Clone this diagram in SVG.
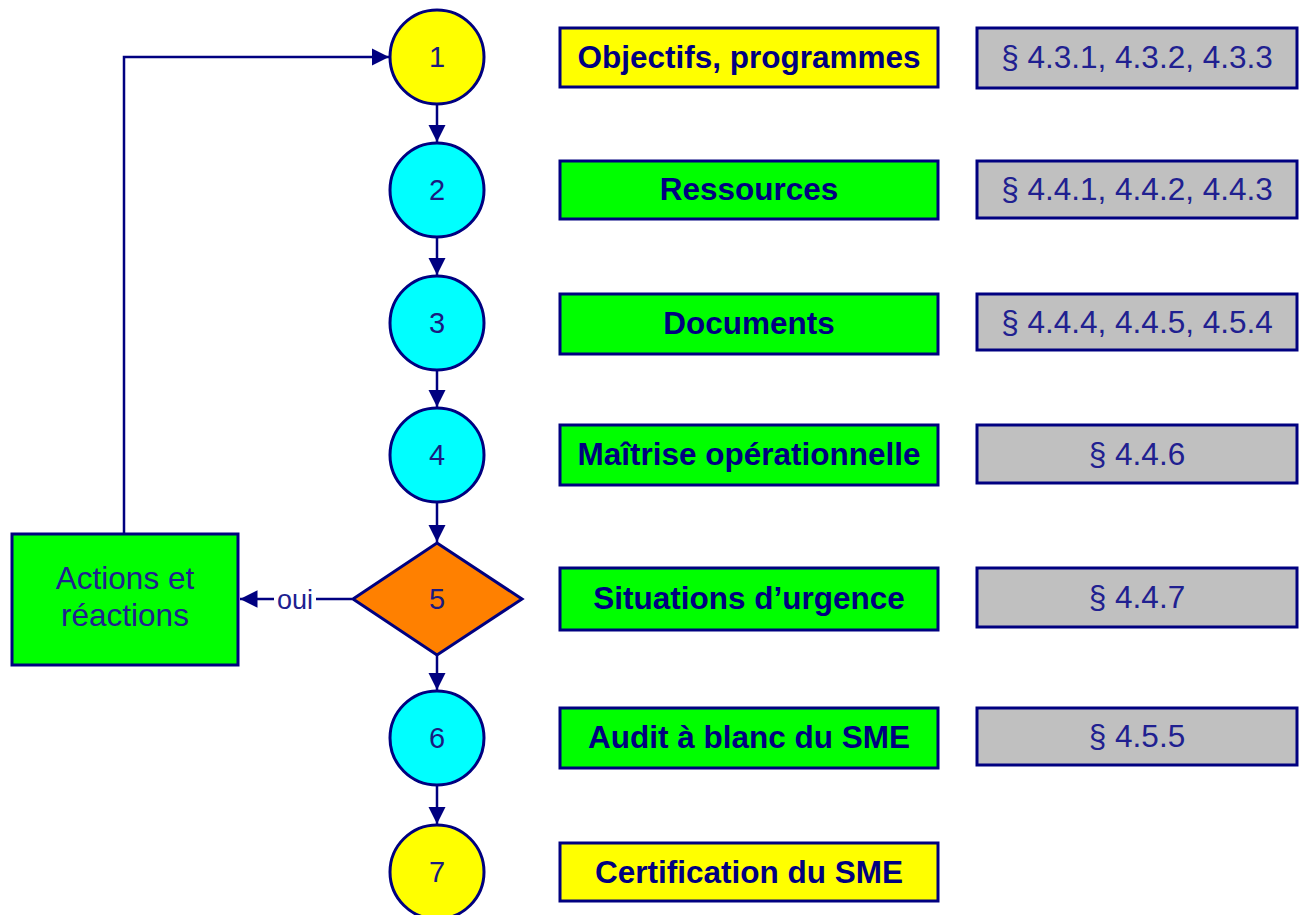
<svg xmlns="http://www.w3.org/2000/svg" width="1303" height="915" viewBox="0 0 1303 915">
<defs>
<style>
.s{stroke:#000080;stroke-width:3}
.yel{fill:#FFFF00}.cy{fill:#00FFFF}.gr{fill:#00FF00}.or{fill:#FF8000}.gy{fill:#C0C0C0}
.num{font-family:"Liberation Sans",Arial,sans-serif;font-size:29px;fill:#1a1a80;text-anchor:middle}
.b{font-family:"Liberation Sans",Arial,sans-serif;font-size:31.5px;font-weight:bold;fill:#000080;text-anchor:middle}
.r{font-family:"Liberation Sans",Arial,sans-serif;font-size:31.5px;fill:#202090;text-anchor:middle}
.ln{fill:none;stroke:#000080;stroke-width:2.5}
</style>
<marker id="ah" viewBox="0 0 10 10" refX="10" refY="5" markerWidth="7" markerHeight="7" markerUnits="strokeWidth" orient="auto">
<path d="M0,0 L10,5 L0,10 Z" fill="#000080"/>
</marker>
</defs>
<rect width="1303" height="915" fill="#FFFFFF"/>
<g id="connectors">
<path class="ln" d="M437,104 L437,142" marker-end="url(#ah)"/>
<path class="ln" d="M437,237 L437,275" marker-end="url(#ah)"/>
<path class="ln" d="M437,370 L437,407" marker-end="url(#ah)"/>
<path class="ln" d="M437,502 L437,542" marker-end="url(#ah)"/>
<path class="ln" d="M437,655 L437,690" marker-end="url(#ah)"/>
<path class="ln" d="M437,785 L437,824" marker-end="url(#ah)"/>
<path class="ln" d="M124,534 L124,57 L389,57" marker-end="url(#ah)"/>
<path class="ln" d="M352,599 L240,599" marker-end="url(#ah)"/>
<rect x="274" y="586" width="42" height="26" fill="#FFFFFF"/>
<text x="295" y="609" font-family="Liberation Sans, Arial, sans-serif" font-size="27" fill="#202090" text-anchor="middle">oui</text>
</g>
<g id="n1"><circle class="s yel" cx="437" cy="57" r="47"/><text class="num" x="437" y="67">1</text></g>
<g id="n2"><circle class="s cy" cx="437" cy="190" r="47"/><text class="num" x="437" y="200">2</text></g>
<g id="n3"><circle class="s cy" cx="437" cy="323" r="47"/><text class="num" x="437" y="333">3</text></g>
<g id="n4"><circle class="s cy" cx="437" cy="455" r="47"/><text class="num" x="437" y="465">4</text></g>
<g id="n5"><path class="s or" d="M437,543 L522,599 L437,655 L353,599 Z"/><text class="num" x="437" y="609">5</text></g>
<g id="n6"><circle class="s cy" cx="437" cy="738" r="47"/><text class="num" x="437" y="748">6</text></g>
<g id="n7"><circle class="s yel" cx="437" cy="872" r="47"/><text class="num" x="437" y="882">7</text></g>
<g id="actions"><rect class="s gr" x="12" y="534" width="226" height="131"/>
<text class="r" x="125" y="589">Actions et</text><text class="r" x="125" y="626">réactions</text></g>
<g id="t1"><rect class="s yel" x="560" y="28" width="378" height="59"/><text class="b" x="749" y="68">Objectifs, programmes</text></g>
<g id="t2"><rect class="s gr" x="560" y="161" width="378" height="58"/><text class="b" x="749" y="200">Ressources</text></g>
<g id="t3"><rect class="s gr" x="560" y="294" width="378" height="60"/><text class="b" x="749" y="334">Documents</text></g>
<g id="t4"><rect class="s gr" x="560" y="425" width="378" height="60"/><text class="b" x="749" y="465">Maîtrise opérationnelle</text></g>
<g id="t5"><rect class="s gr" x="560" y="568" width="378" height="62"/><text class="b" x="749" y="609">Situations d’urgence</text></g>
<g id="t6"><rect class="s gr" x="560" y="708" width="378" height="60"/><text class="b" x="749" y="748">Audit à blanc du SME</text></g>
<g id="t7"><rect class="s yel" x="560" y="843" width="378" height="58"/><text class="b" x="749" y="883">Certification du SME</text></g>
<g id="p1"><rect class="s gy" x="977" y="28" width="320" height="60"/><text class="r" x="1137" y="68">§ 4.3.1, 4.3.2, 4.3.3</text></g>
<g id="p2"><rect class="s gy" x="977" y="161" width="320" height="57"/><text class="r" x="1137" y="200">§ 4.4.1, 4.4.2, 4.4.3</text></g>
<g id="p3"><rect class="s gy" x="977" y="294" width="320" height="56"/><text class="r" x="1137" y="333">§ 4.4.4, 4.4.5, 4.5.4</text></g>
<g id="p4"><rect class="s gy" x="977" y="425" width="320" height="58"/><text class="r" x="1137" y="465">§ 4.4.6</text></g>
<g id="p5"><rect class="s gy" x="977" y="568" width="320" height="59"/><text class="r" x="1137" y="608">§ 4.4.7</text></g>
<g id="p6"><rect class="s gy" x="977" y="708" width="320" height="57"/><text class="r" x="1137" y="747">§ 4.5.5</text></g>
</svg>
